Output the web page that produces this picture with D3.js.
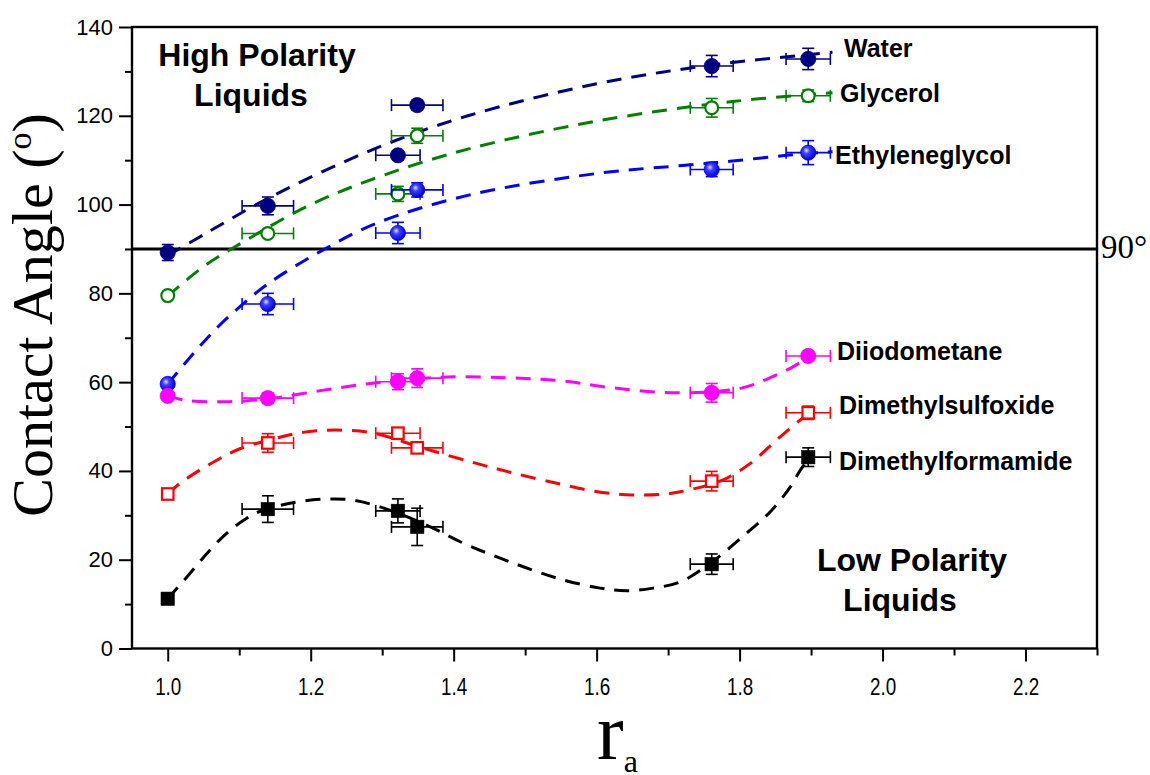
<!DOCTYPE html>
<html>
<head>
<meta charset="utf-8">
<script src="https://cdn.jsdelivr.net/npm/d3@7/dist/d3.min.js"></script>
<style>
  html, body { margin: 0; padding: 0; background: #ffffff; }
  svg { display: block; }
</style>
</head>
<body>
<svg id="chart" width="1150" height="775"></svg>
<script>
// ---- data: contact angle (deg) against r_a for six probe liquids ----
const rA    = [1.0, 1.14, 1.322, 1.349, 1.761, 1.896];
const rAErr = [0, 0.036, 0.031, 0.036, 0.030, 0.031];

const seriesNames = ["Water", "Glycerol", "Ethyleneglycol", "Diiodometane", "Dimethylsulfoxide", "Dimethylformamide"];

const waterAngle          = [89.2, 99.7, 111.1, 122.4, 131.2, 132.8];
const waterErr            = [1.8, 2.0, 1.0, 1.1, 2.4, 2.4];
const glycerolAngle       = [79.5, 93.5, 102.4, 115.5, 121.8, 124.5];
const glycerolErr         = [0.6, 0.6, 1.7, 1.7, 2.1, 1.3];
const ethyleneglycolAngle = [59.6, 77.6, 93.6, 103.3, 107.9, 111.7];
const ethyleneglycolErr   = [0.6, 2.4, 2.4, 1.6, 1.6, 2.7];
const diiodometaneAngle   = [56.9, 56.4, 60.1, 60.9, 57.6, 65.9];
const diiodometaneErr     = [0.6, 1.2, 1.8, 2.1, 2.1, 0.6];
const dmsoAngle           = [34.8, 46.3, 48.5, 45.2, 37.7, 53.1];
const dmsoErr             = [0.8, 2.1, 0.8, 0.6, 2.2, 1.5];
const dmfAngle            = [11.2, 31.4, 31.0, 27.4, 19.0, 43.1];
const dmfErr              = [0.6, 3.0, 2.7, 4.2, 2.3, 2.1];

// fitted trend lines, sampled as [r_a, angle]
const waterFit = [[1.0, 88.5], [1.05, 93.2], [1.145, 101.8], [1.29, 112.6], [1.42, 120.0],
                  [1.6, 127.2], [1.76, 131.4], [1.93, 134.3]];
const glycerolFit = [[1.0, 79.4], [1.05, 86.0], [1.11, 92.0], [1.2, 100.0], [1.3, 106.5],
                     [1.42, 112.5], [1.6, 118.8], [1.79, 123.2], [1.93, 125.2]];
const ethyleneglycolFit = [[1.0, 59.6], [1.04, 67.2], [1.073, 72.9], [1.101, 77.0], [1.129, 80.8],
                           [1.162, 84.5], [1.222, 90.2], [1.292, 95.8], [1.423, 102.2], [1.605, 107.1],
                           [1.72, 108.8], [1.79, 109.8], [1.866, 111.1], [1.93, 111.9]];
const diiodometaneFit = [[1.0, 56.9], [1.026, 55.9], [1.087, 55.6], [1.143, 56.3], [1.218, 58.2],
                         [1.283, 59.7], [1.381, 61.1], [1.474, 61.0], [1.55, 60.3], [1.623, 58.7],
                         [1.712, 57.6], [1.801, 58.6], [1.843, 61.0], [1.875, 63.5], [1.9, 66.0]];
const dmsoFit = [[1.0, 34.8], [1.017, 37.2], [1.045, 40.2], [1.073, 42.8], [1.101, 45.0],
                 [1.157, 47.6], [1.194, 48.8], [1.236, 49.2], [1.288, 48.5], [1.362, 44.9],
                 [1.432, 41.7], [1.484, 39.5], [1.55, 37.0], [1.605, 35.2], [1.65, 34.6],
                 [1.689, 34.7], [1.717, 35.3], [1.777, 38.0], [1.815, 41.7], [1.852, 47.0],
                 [1.885, 51.5], [1.9, 53.3]];
const dmfFit = [[1.0, 11.2], [1.031, 16.9], [1.057, 21.8], [1.082, 25.9], [1.11, 29.3],
                [1.134, 31.2], [1.171, 32.7], [1.213, 33.6], [1.255, 33.5], [1.297, 31.9],
                [1.362, 27.8], [1.414, 23.7], [1.484, 19.2], [1.55, 15.6], [1.605, 13.6],
                [1.642, 13.0], [1.679, 13.6], [1.717, 15.0], [1.759, 19.2], [1.81, 26.0],
                [1.843, 30.8], [1.871, 36.4], [1.885, 40.2], [1.9, 43.3]];

const xMajorTicks = [1.0, 1.2, 1.4, 1.6, 1.8, 2.0, 2.2];
const xMinorTicks = [1.1, 1.3, 1.5, 1.7, 1.9, 2.1, 2.3];
const yMajorTicks = [0, 20, 40, 60, 80, 100, 120, 140];
const yMinorTicks = [10, 30, 50, 70, 90, 110, 130];
const referenceAngle = 90;

// ---- layout ----
const plot = { left: 132, right: 1097, top: 27, bottom: 648.5 };
const x = d3.scaleLinear().domain([0.95, 2.3]).range([plot.left, plot.right]);
const y = d3.scaleLinear().domain([0, 140]).range([plot.bottom, plot.top]);

const svg = d3.select("#chart");
const defs = svg.append("defs");
const grad = defs.append("radialGradient").attr("id", "sphereBlue")
  .attr("cx", "40%").attr("cy", "40%").attr("r", "60%").attr("fx", "38%").attr("fy", "35%");
grad.append("stop").attr("offset", "0%").attr("stop-color", "#e8e8ff");
grad.append("stop").attr("offset", "35%").attr("stop-color", "#4040ff");
grad.append("stop").attr("offset", "100%").attr("stop-color", "#0000e0");

const styles = {
  "Water":             { color: "#000080", marker: "circle", fill: "#000080" },
  "Glycerol":          { color: "#008000", marker: "circle", fill: "#ffffff", open: true },
  "Ethyleneglycol":    { color: "#0000ff", marker: "circle", fill: "url(#sphereBlue)" },
  "Diiodometane":      { color: "#ff00ff", marker: "circle", fill: "#ff00ff" },
  "Dimethylsulfoxide": { color: "#ff0000", marker: "square", fill: "#ffffff", open: true },
  "Dimethylformamide": { color: "#000000", marker: "square", fill: "#000000" }
};
const labelPos = {
  "Water":             [844, 57],
  "Glycerol":          [840, 102],
  "Ethyleneglycol":    [835, 164],
  "Diiodometane":      [837, 360],
  "Dimethylsulfoxide": [839, 414],
  "Dimethylformamide": [839, 470]
};

const series = [
  { name: seriesNames[0], values: waterAngle, errs: waterErr, fit: waterFit },
  { name: seriesNames[1], values: glycerolAngle, errs: glycerolErr, fit: glycerolFit },
  { name: seriesNames[2], values: ethyleneglycolAngle, errs: ethyleneglycolErr, fit: ethyleneglycolFit },
  { name: seriesNames[3], values: diiodometaneAngle, errs: diiodometaneErr, fit: diiodometaneFit },
  { name: seriesNames[4], values: dmsoAngle, errs: dmsoErr, fit: dmsoFit },
  { name: seriesNames[5], values: dmfAngle, errs: dmfErr, fit: dmfFit }
];

// ---- axes ----
const axisColor = "#000";
const xAxis = svg.append("g").attr("transform", `translate(0,${plot.bottom})`)
  .call(d3.axisBottom(x).tickValues(xMajorTicks).tickFormat(d3.format(".1f")).tickSize(13).tickPadding(17));
const xMinor = svg.append("g").attr("transform", `translate(0,${plot.bottom})`)
  .call(d3.axisBottom(x).tickValues(xMinorTicks).tickFormat("").tickSize(7));
const yAxis = svg.append("g").attr("transform", `translate(${plot.left},0)`)
  .call(d3.axisLeft(y).tickValues(yMajorTicks).tickSize(13).tickPadding(6));
const yMinor = svg.append("g").attr("transform", `translate(${plot.left},0)`)
  .call(d3.axisLeft(y).tickValues(yMinorTicks).tickFormat("").tickSize(7));

[xAxis, xMinor, yAxis, yMinor].forEach(g => {
  g.select(".domain").remove();
  g.selectAll(".tick line").attr("stroke", axisColor).attr("stroke-width", 2);
});
xAxis.selectAll(".tick text")
  .attr("font-family", "'Liberation Sans', Arial, sans-serif")
  .attr("font-size", 23).attr("fill", "#000")
  .attr("transform", "scale(0.82,1)");
yAxis.selectAll(".tick text")
  .attr("font-family", "'Liberation Sans', Arial, sans-serif")
  .attr("font-size", 22).attr("fill", "#000");

// frame
svg.append("rect")
  .attr("x", plot.left).attr("y", plot.top)
  .attr("width", plot.right - plot.left).attr("height", plot.bottom - plot.top)
  .attr("fill", "none").attr("stroke", axisColor).attr("stroke-width", 2.4);

// 90 degree reference line
svg.append("line")
  .attr("x1", plot.left).attr("x2", plot.right)
  .attr("y1", y(referenceAngle)).attr("y2", y(referenceAngle))
  .attr("stroke", "#000").attr("stroke-width", 3);
svg.append("text")
  .attr("x", plot.right + 4).attr("y", y(referenceAngle) + 9)
  .attr("font-family", "'Liberation Serif', 'Times New Roman', serif")
  .attr("font-size", 33).attr("fill", "#000")
  .text(referenceAngle + "°");

// ---- fitted curves ----
const line = d3.line().x(d => x(d[0])).y(d => y(d[1])).curve(d3.curveCatmullRom.alpha(0.5));
svg.append("g").selectAll("path").data(series).join("path")
  .attr("d", s => line(s.fit))
  .attr("fill", "none")
  .attr("stroke", s => styles[s.name].color)
  .attr("stroke-width", 3)
  .attr("stroke-dasharray", "15,10");

// ---- error bars and markers ----
const capH = 6;
series.forEach(s => {
  const st = styles[s.name];
  const g = svg.append("g").attr("stroke", st.color).attr("stroke-width", 1.6).attr("fill", "none");
  s.values.forEach((v, i) => {
    const cx = x(rA[i]), cy = y(v);
    const e = s.errs[i];
    // vertical error bar
    g.append("line").attr("x1", cx).attr("x2", cx).attr("y1", y(v - e)).attr("y2", y(v + e));
    g.append("line").attr("x1", cx - capH).attr("x2", cx + capH).attr("y1", y(v - e)).attr("y2", y(v - e));
    g.append("line").attr("x1", cx - capH).attr("x2", cx + capH).attr("y1", y(v + e)).attr("y2", y(v + e));
    // horizontal error bar
    if (rAErr[i] > 0) {
      const xl = x(rA[i] - rAErr[i]), xr = x(rA[i] + rAErr[i]);
      g.append("line").attr("x1", xl).attr("x2", xr).attr("y1", cy).attr("y2", cy);
      g.append("line").attr("x1", xl).attr("x2", xl).attr("y1", cy - capH).attr("y2", cy + capH);
      g.append("line").attr("x1", xr).attr("x2", xr).attr("y1", cy - capH).attr("y2", cy + capH);
    }
  });
  const m = svg.append("g");
  s.values.forEach((v, i) => {
    const cx = x(rA[i]), cy = y(v);
    if (st.marker === "circle") {
      m.append("circle").attr("cx", cx).attr("cy", cy).attr("r", st.open ? 6.4 : 7.6)
        .attr("fill", st.fill)
        .attr("stroke", st.color).attr("stroke-width", st.open ? 2.2 : 0.8);
    } else {
      const sz = st.open ? 11.5 : 13.5;
      m.append("rect").attr("x", cx - sz / 2).attr("y", cy - sz / 2).attr("width", sz).attr("height", sz)
        .attr("fill", st.fill)
        .attr("stroke", st.color).attr("stroke-width", st.open ? 2.2 : 0.5);
    }
  });
});

// ---- series labels ----
svg.append("g").selectAll("text").data(series).join("text")
  .attr("x", s => labelPos[s.name][0]).attr("y", s => labelPos[s.name][1])
  .attr("font-family", "'Liberation Sans', Arial, sans-serif")
  .attr("font-weight", "bold").attr("font-size", 25).attr("fill", "#000")
  .text(s => s.name);

// group annotations
const groupFont = "'Liberation Sans', Arial, sans-serif";
const high = svg.append("text").attr("font-family", groupFont).attr("font-weight", "bold")
  .attr("font-size", 32).attr("text-anchor", "middle").attr("fill", "#000");
high.append("tspan").attr("x", 257).attr("y", 66).text("High Polarity");
high.append("tspan").attr("x", 251).attr("y", 106).text("Liquids");
const low = svg.append("text").attr("font-family", groupFont).attr("font-weight", "bold")
  .attr("font-size", 32).attr("text-anchor", "middle").attr("fill", "#000");
low.append("tspan").attr("x", 912).attr("y", 571).text("Low Polarity");
low.append("tspan").attr("x", 900).attr("y", 611).text("Liquids");

// ---- axis titles ----
svg.append("text")
  .attr("transform", "translate(52,315) rotate(-90)")
  .attr("text-anchor", "middle")
  .attr("font-family", "'Liberation Serif', 'Times New Roman', serif")
  .attr("font-size", 58).attr("fill", "#000")
  .html('Contact Angle (<tspan font-size="34" dy="-21">o</tspan><tspan dy="21">)</tspan>');

const xt = svg.append("text")
  .attr("x", 597).attr("y", 759)
  .attr("font-family", "'Liberation Serif', 'Times New Roman', serif")
  .attr("fill", "#000");
xt.append("tspan").attr("font-size", 80).text("r");
xt.append("tspan").attr("font-size", 32).attr("dy", 13).text("a");
</script>
</body>
</html>
